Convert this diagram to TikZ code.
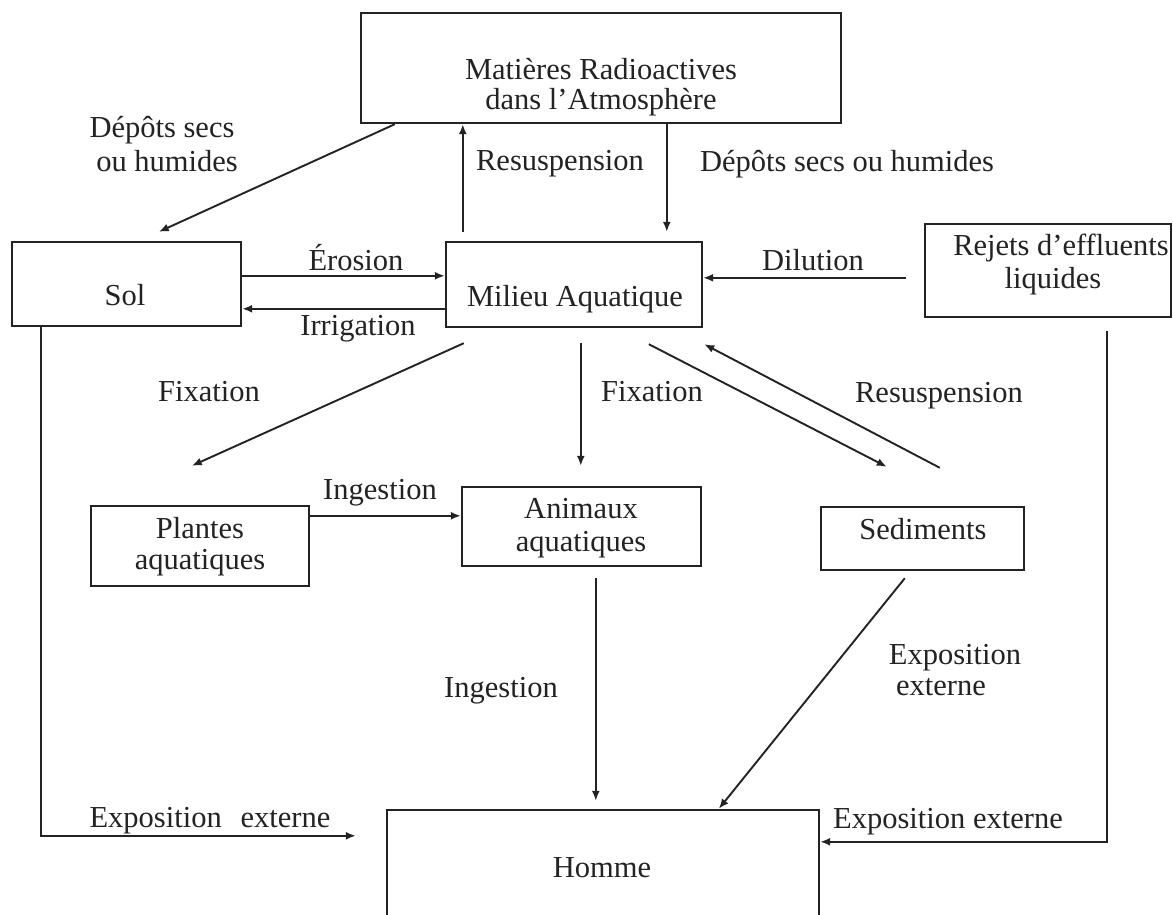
\documentclass[tikz,border=0pt]{standalone}
\usepackage{fontspec}
\setmainfont{Liberation Serif}
\usetikzlibrary{arrows.meta,fit}
\definecolor{ink}{RGB}{35,35,35}
\begin{document}
\begin{tikzpicture}[x=0.5pt,y=-0.5pt,
  box/.style={draw=ink,line width=1.2pt,inner sep=0pt,rectangle},
  arr/.style={draw=ink,line width=0.95pt,-{Latex[length=5pt,width=4pt]}},
  txt/.style={anchor=base,inner sep=0pt,text=ink,font=\fontsize{15.25pt}{16pt}\selectfont}]
\clip (0,0) rectangle (1173,915);
\fill[white] (0,0) rectangle (1173,915);
% boxes
\node[box,fit={(361,13) (841,123)}] (atm) {};
\node[box,fit={(12,242) (241,326)}] (sol) {};
\node[box,fit={(446,242) (702,327)}] (mil) {};
\node[box,fit={(925,224) (1171,317)}] (rej) {};
\node[box,fit={(91,506) (309,586)}] (pla) {};
\node[box,fit={(462,487) (701,566)}] (ani) {};
\node[box,fit={(821,507) (1024,570)}] (sed) {};
\node[box,fit={(387,810) (819,960)}] (hom) {};
% box texts
\node[txt] (atm1) at (601,80) {Matières Radioactives};
\node[txt] (atm2) at (601,110) {dans l’Atmosphère};
\node[txt] (sol-t) at (125,305) {Sol};
\node[txt] (mil-t) at (575,306) {Milieu Aquatique};
\node[txt] (rej1) at (1061,255) {Rejets d’effluents};
\node[txt] (rej2) at (1053,288) {liquides};
\node[txt] (pla1) at (200,538) {Plantes};
\node[txt] (pla2) at (200,569) {aquatiques};
\node[txt] (ani1) at (581,518) {Animaux};
\node[txt] (ani2) at (581,551) {aquatiques};
\node[txt] (sed-t) at (923,539) {Sediments};
\node[txt] (hom-t) at (602,877) {Homme};
% connector labels
\node[txt] (l-dep1) at (162,138) {Dépôts secs};
\node[txt] (l-dep2) at (167,171) {ou humides};
\node[txt] (l-res1) at (560,170) {Resuspension};
\node[txt] (l-dep3) at (847,171) {Dépôts secs ou humides};
\node[txt] (l-ero) at (356,270) {Érosion};
\node[txt] (l-irr) at (358,335) {Irrigation};
\node[txt] (l-dil) at (813,270) {Dilution};
\node[txt] (l-fix1) at (209,401) {Fixation};
\node[txt] (l-fix2) at (652,401) {Fixation};
\node[txt] (l-res2) at (939,402) {Resuspension};
\node[txt] (l-ing1) at (380,499) {Ingestion};
\node[txt] (l-ing2) at (501,697) {Ingestion};
\node[txt] (l-exp1) at (955,664) {Exposition};
\node[txt] (l-exp2) at (941,695) {externe};
\node[txt] (l-exp3) at (210,827) {Exposition\hspace{0.62em}externe};
\node[txt] (l-exp4) at (948,828) {Exposition externe};
% connectors
\draw[arr] ([shift={(35,0)}]atm.south west) -- ([shift={(148,-9)}]sol.north west);
\draw[arr] ([shift={(18,-9)}]mil.north west) -- ([shift={(103,0)}]atm.south west);
\draw[arr] ([shift={(307,0)}]atm.south west) -- ([shift={(222,-9)}]mil.north west);
\draw[arr] ([shift={(0,35)}]sol.north east) -- ([shift={(0,35)}]mil.north west);
\draw[arr] ([shift={(0,68)}]mil.north west) -- ([shift={(0,68)}]sol.north east);
\draw[arr] ([shift={(-18,55)}]rej.north west) -- ([shift={(0,37)}]mil.north east);
\draw[arr] ([shift={(19,15)}]mil.south west) -- ([shift={(102,-39)}]pla.north west);
\draw[arr] ([shift={(136,15)}]mil.south west) -- ([shift={(120,-20)}]ani.north west);
\draw[arr] ([shift={(204,16)}]mil.south west) -- ([shift={(67,-39)}]sed.north west);
\draw[arr] ([shift={(120,-38)}]sed.north west) -- ([shift={(1,16)}]mil.south east);
\draw[arr] ([shift={(0,11)}]pla.north east) -- ([shift={(0,30)}]ani.north west);
\draw[arr] ([shift={(135,11)}]ani.south west) -- ([shift={(210,-8)}]hom.north west);
\draw[arr] ([shift={(85,7)}]sed.south west) -- ([shift={(333,0)}]hom.north west);
\draw[arr] ([shift={(30,0)}]sol.south west) |- ([shift={(-30,27)}]hom.north west);
\draw[arr] ([shift={(183,13)}]rej.south west) |- ([shift={(0,33)}]hom.north east);
\end{tikzpicture}
\end{document}
